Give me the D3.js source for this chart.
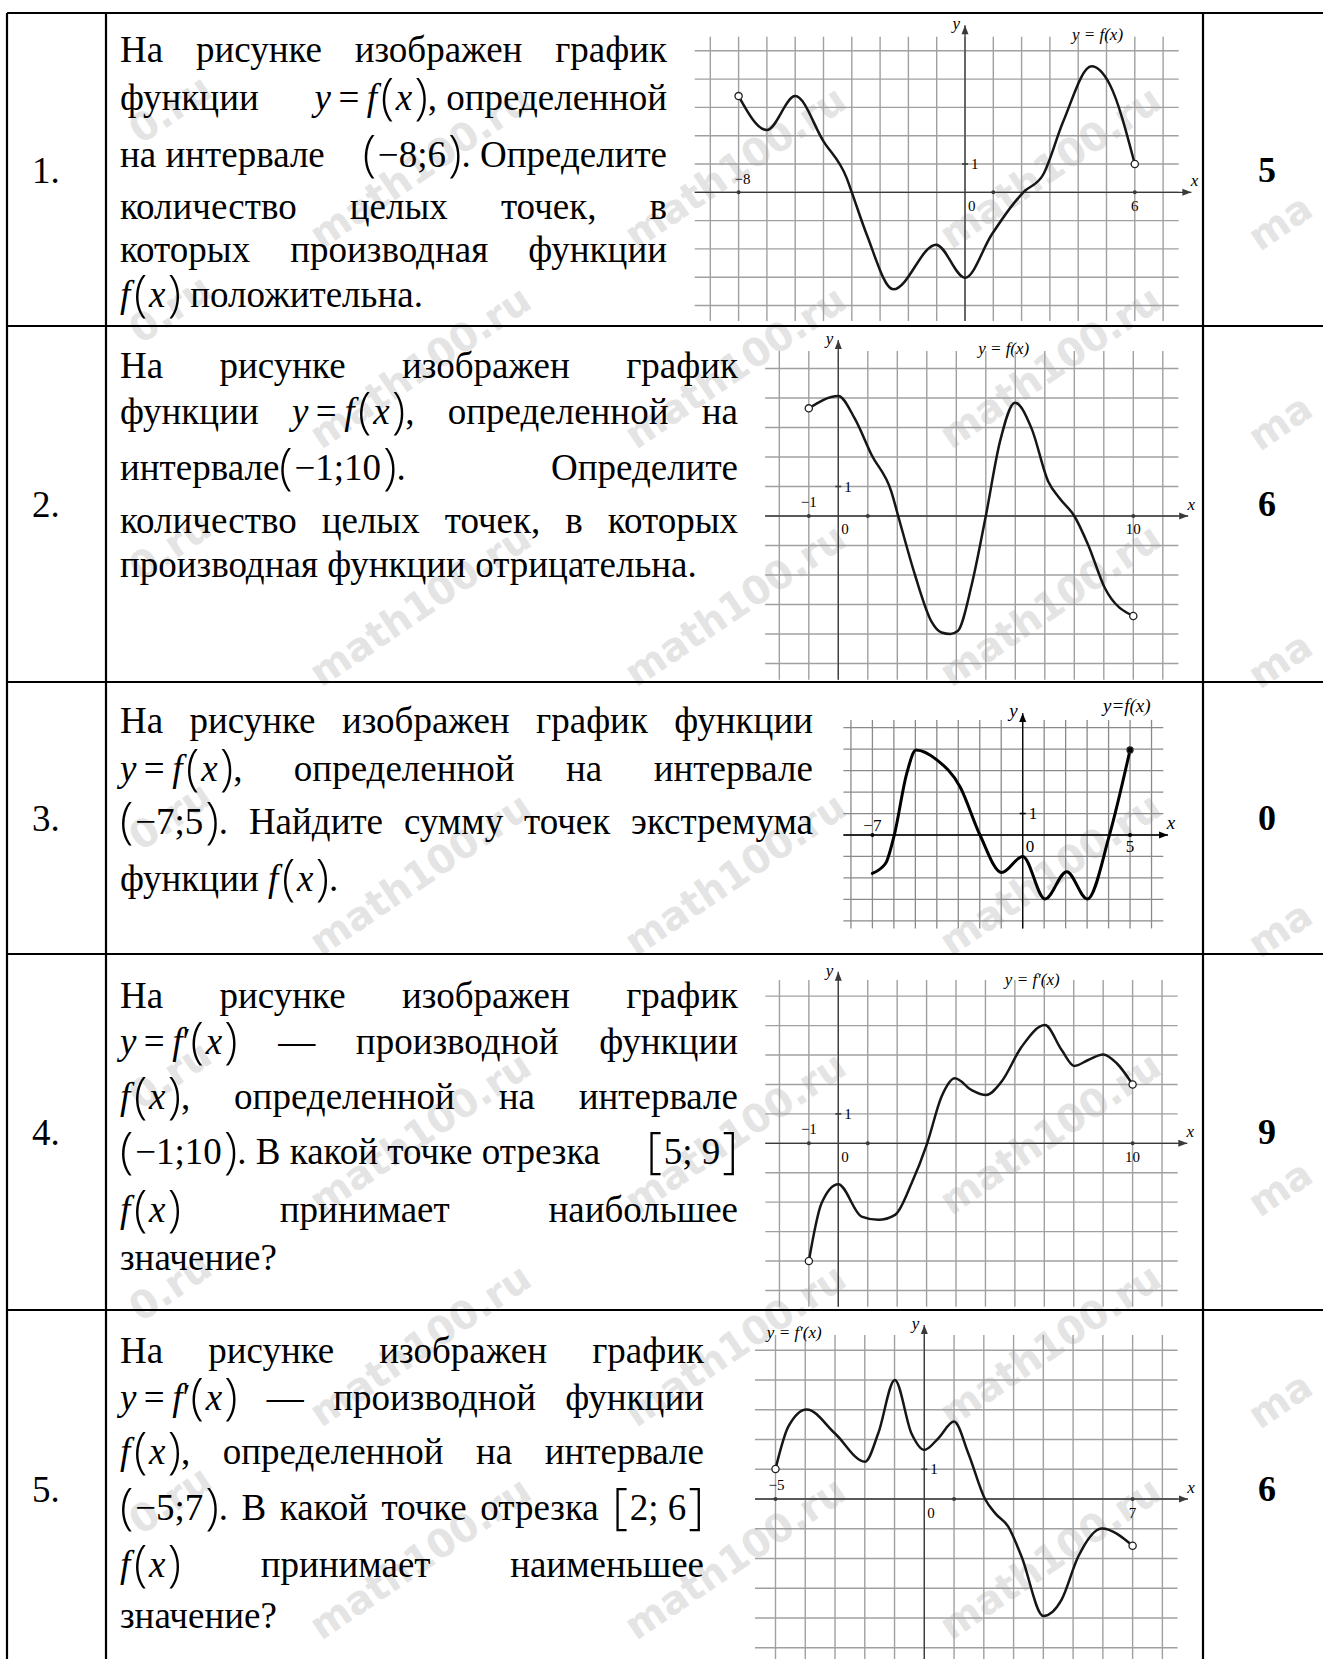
<!DOCTYPE html>
<html lang="ru">
<head>
<meta charset="UTF-8">
<title>Графики функций и производных</title>
<script src="https://cdnjs.cloudflare.com/ajax/libs/d3/7.8.5/d3.min.js"></script>
<style>
  body { margin: 0; background: #fff; }
  svg { display: block; }
  .txt { font-family: "Liberation Serif", "Times New Roman", serif; fill: #000; }
  .wm { font-family: "DejaVu Sans", sans-serif; font-weight: bold; fill: #e4e4e4; }
</style>
</head>
<body>
<svg width="1323" height="1659"></svg>
<script>
// numbers and answers
var taskNums = ["1.", "2.", "3.", "4.", "5."];
var answers = ["5", "6", "0", "9", "6"];

// task texts, one entry per printed line ($ = formula word, nbsp = fixed space)
var text1 = ["На рисунке изображен график", "функции $y=f(x),\u00a0определенной", "на\u00a0интервале $(−8;6).\u00a0Определите",
  "количество целых точек, в", "которых производная функции", "$f(x) положительна."];
var text2 = ["На рисунке изображен график", "функции $y=f(x), определенной на", "$интервале(−1;10). Определите",
  "количество целых точек, в которых", "производная функции отрицательна."];
var text3 = ["На рисунке изображен график функции", "$y=f(x), определенной на интервале",
  "$(−7;5). Найдите сумму точек экстремума", "функции $f(x)."];
var text4 = ["На рисунке изображен график", "$y=f′(x) — производной функции", "$f(x), определенной на интервале",
  "$(−1;10).\u00a0В\u00a0какой\u00a0точке\u00a0отрезка $[5;\u00a09]", "$f(x) принимает наибольшее", "значение?"];
var text5 = ["На рисунке изображен график", "$y=f′(x) — производной функции", "$f(x), определенной на интервале",
  "$(−5;7). В какой точке отрезка $[2;\u00a06]", "$f(x) принимает наименьшее", "значение?"];

// curve points (x, y in grid units)
var g1X = [-8, -7, -6, -5, -4.18, -4, -3.47, -2.53, -1.02, 0, 0.94, 1.6, 2.06, 2.76, 3.47, 4.47, 5.12, 6];
var g1Y = [3.4, 2.2, 3.4, 1.8, 0.5, 0, -1.5, -3.43, -1.85, -3.02, -1.5, -0.55, 0, 0.62, 2.5, 4.45, 3.8, 1];
var g2X = [-1, 0, 0.56, 1.13, 1.8, 2.03, 2.6, 3.16, 3.5, 3.8, 4.05, 4.52, 5, 5.48, 5.99, 6.55, 7.12, 7.5, 8, 8.47, 9.04, 10];
var g2Y = [3.65, 4.07, 3.3, 2.07, 0.82, 0, -2, -3.58, -3.95, -4.0, -3.9, -2.34, 0, 2.52, 3.84, 2.97, 1.16, 0.6, 0, -0.98, -2.45, -3.39];
var g3X = [-7, -6.6, -6.34, -5.98, -5.4, -4.97, -4, -2.92, -1.99, -0.98, 0, 1.04, 2.05, 3.01, 4.04, 5];
var g3Y = [-1.79, -1.55, -1.24, 0, 2.87, 3.96, 3.5, 2.25, 0, -1.75, -1.0, -2.98, -1.71, -2.98, 0, 3.96];
var g4X = [-1, -0.57, 0, 0.79, 1.36, 1.93, 2.49, 3.02, 3.51, 3.96, 4.53, 5.02, 5.55, 6.23, 7.02, 7.59, 8.02, 8.49, 9.0, 9.46, 10];
var g4Y = [-4.0, -2.04, -1.39, -2.49, -2.6, -2.43, -1.36, 0, 1.59, 2.21, 1.81, 1.64, 2.1, 3.28, 4.02, 3.17, 2.63, 2.83, 3.02, 2.72, 2.0];
var g5X = [-5, -4.57, -3.95, -3.0, -1.99, -1.55, -0.99, -0.43, 0, 0.47, 1.0, 1.48, 2.04, 2.4, 2.82, 3.27, 4.0, 4.61, 5.17, 5.96, 7];
var g5Y = [1.01, 2.43, 3.01, 2.2, 1.25, 2.2, 4.0, 2.2, 1.65, 2.04, 2.6, 1.53, 0, -0.5, -0.93, -1.94, -3.93, -3.39, -1.94, -0.99, -1.57];

// axis labels of each plot: left tick, zero, right tick, one, y, x, title
var g1Labels = ["−8", "0", "6", "1", "y", "x", "y = f(x)"];
var g2Labels = ["−1", "0", "10", "1", "y", "x", "y = f(x)"];
var g3Labels = ["−7", "0", "5", "1", "y", "x", "y=f(x)"];
var g4Labels = ["−1", "0", "10", "1", "y", "x", "y = f′(x)"];
var g5Labels = ["−5", "0", "7", "1", "y", "x", "y = f′(x)"];

// site stamp printed over the page, and the pieces of it cut by the page edges
var watermark = "math100.ru";
var wmLeft = "0.ru";
var wmRight = "ma";

var svg = d3.select("svg");
var FS = 37;

// table frame
var colX = [7, 106, 1203, 1331];
var rowY = [13, 326, 682, 954, 1310, 1668];

// ---------- watermark layer ----------
var wmg = svg.append("g");
function stamp(t, wx, wy) {
    wmg.append("text").attr("class", "wm").attr("font-size", 39)
        .attr("text-anchor", "middle").attr("dominant-baseline", "central")
        .attr("transform", "translate(" + wx + "," + wy + ") rotate(-34)")
        .text(t);
}
[167, 367, 605, 874, 1133, 1345, 1558].forEach(function(wy, k) {
    [420, 735, 1050].forEach(function(wx) { stamp(watermark, wx, wy); });
    stamp(wmLeft, 170, wy - 58);
    if (k < 6) stamp(wmRight, 1280, wy + 55);
});

// ---------- plots ----------
function drawPlot(p, xs, ys, labels) {
    var x = d3.scaleLinear().domain([0, 1]).range([p.ox, p.ox + p.u]);
    var y = d3.scaleLinear().domain([0, 1]).range([p.oy, p.oy - p.u]);
    var g = svg.append("g");
    var scan = p.style === "scan";
    var gridc = scan ? "#a0a0a0" : "#8a8a8a";

    g.selectAll(".vg").data(d3.range(p.vx[0], p.vx[1] + 1)).enter().append("line")
        .attr("x1", d => x(d)).attr("x2", d => x(d))
        .attr("y1", y(p.vTop)).attr("y2", y(p.vBot))
        .attr("stroke", gridc).attr("stroke-width", scan ? 1.4 : 1.3);
    g.selectAll(".hg").data(d3.range(p.hy[0], p.hy[1] + 1)).enter().append("line")
        .attr("x1", x(p.hL)).attr("x2", x(p.hR))
        .attr("y1", d => y(d)).attr("y2", d => y(d))
        .attr("stroke", gridc).attr("stroke-width", scan ? 1.4 : 1.3);

    // axes
    var axc = scan ? "#3a3a3a" : "#000";
    g.append("line").attr("x1", x(p.hL)).attr("x2", x(p.axR)).attr("y1", y(0)).attr("y2", y(0))
        .attr("stroke", axc).attr("stroke-width", 1.3);
    g.append("line").attr("x1", x(0)).attr("x2", x(0)).attr("y1", y(p.vBot)).attr("y2", y(p.axT))
        .attr("stroke", axc).attr("stroke-width", 1.3);
    var ax = x(p.axR), ay = y(0), tx = x(0), ty = y(p.axT);
    g.append("path").attr("d", "M" + ax + "," + ay + "L" + (ax - 9) + "," + (ay - 3.5) + "L" + (ax - 9) + "," + (ay + 3.5) + "Z").attr("fill", axc);
    g.append("path").attr("d", "M" + tx + "," + ty + "L" + (tx - 3.5) + "," + (ty + 9) + "L" + (tx + 3.5) + "," + (ty + 9) + "Z").attr("fill", axc);

    // tick dots
    g.selectAll(".tk").data(p.ticks).enter().append("circle")
        .attr("cx", d => x(d)).attr("cy", y(0)).attr("r", 2).attr("fill", axc);
    g.append("line").attr("x1", x(0) - 3).attr("x2", x(0) + 3).attr("y1", y(1)).attr("y2", y(1))
        .attr("stroke", axc).attr("stroke-width", 1.6);

    var pos = [
        [x(p.ticks[0]) + p.lx, y(0) - p.above, "middle"],
        [x(0) + 3, y(0) + p.below, "start"],
        [x(p.rt), y(0) + p.below, "middle"],
        [x(0) + 6, y(1) + 5, "start"],
        [x(0) - 5, y(p.axT) + 4, "end"],
        [x(p.axR) + 3, y(0) - 6, "middle"],
        [x(p.titleX), y(p.titleY), "start"]
    ];
    labels.forEach(function(t, i) {
        g.append("text").attr("class", "txt")
            .attr("x", pos[i][0]).attr("y", pos[i][1]).attr("text-anchor", pos[i][2])
            .attr("font-size", i >= 4 ? p.fs + 2 : p.fs)
            .attr("font-style", i >= 4 ? "italic" : null)
            .attr("fill", scan ? "#505050" : "#000")
            .text(t);
    });

    var line = d3.line().x((d, i) => x(xs[i])).y((d, i) => y(ys[i])).curve(d3.curveMonotoneX);
    g.append("path").datum(xs).attr("d", line).attr("fill", "none")
        .attr("stroke", scan ? "#161616" : "#000").attr("stroke-width", scan ? 2.5 : 3)
        .attr("stroke-linejoin", "round").attr("stroke-linecap", "round");

    p.ends.forEach(function(e) {
        var i = e[0] === 0 ? 0 : xs.length - 1;
        g.append("circle").attr("cx", x(xs[i])).attr("cy", y(ys[i])).attr("r", e[1] ? 3.6 : 3)
            .attr("fill", e[1] ? "#fff" : "#000").attr("stroke", "#222").attr("stroke-width", 1.3);
    });
}

drawPlot({ox: 965, oy: 192.3, u: 28.3, vx: [-9, 7], vTop: 5.5, vBot: -4.55, hy: [-4, 5], hL: -9.55, hR: 7.55,
    axR: 8.0, axT: 5.9, ticks: [-8, 1, 6], rt: 6, lx: 4, above: 8, below: 19, titleX: 3.78, titleY: 5.38,
    fs: 15, style: "scan", ends: [[0, true], [1, true]]}, g1X, g1Y, g1Labels);
drawPlot({ox: 838.3, oy: 516, u: 29.5, vx: [-2, 11], vTop: 5.59, vBot: -5.55, hy: [-5, 5], hL: -2.48, hR: 11.53,
    axR: 11.86, axT: 5.97, ticks: [-1, 1, 10], rt: 10, lx: 0, above: 9, below: 18, titleX: 4.74, titleY: 5.49,
    fs: 15, style: "scan", ends: [[0, true], [1, true]]}, g2X, g2Y, g2Labels);
drawPlot({ox: 1022.7, oy: 835, u: 21.47, vx: [-8, 6], vTop: 5.36, vBot: -4.35, hy: [-4, 5], hL: -8.35, hR: 6.55,
    axR: 6.77, axT: 5.68, ticks: [-7, 5], rt: 5, lx: 0, above: 4, below: 17, titleX: 3.74, titleY: 5.73,
    fs: 17, style: "plain", ends: [[1, false]]}, g3X, g3Y, g3Labels);
drawPlot({ox: 838.3, oy: 1143.3, u: 29.43, vx: [-2, 11], vTop: 5.55, vBot: -5.55, hy: [-5, 5], hL: -2.48, hR: 11.53,
    axR: 11.86, axT: 5.83, ticks: [-1, 1, 10], rt: 10, lx: 0, above: 9, below: 19, titleX: 5.66, titleY: 5.38,
    fs: 15, style: "scan", ends: [[0, true], [1, true]]}, g4X, g4Y, g4Labels);
drawPlot({ox: 924.3, oy: 1499, u: 29.76, vx: [-5, 8], vTop: 5.51, vBot: -5.6, hy: [-5, 5], hL: -5.69, hR: 8.51,
    axR: 8.86, axT: 5.85, ticks: [-5, 1, 7], rt: 7, lx: 1, above: 9, below: 19, titleX: -5.29, titleY: 5.41,
    fs: 15, style: "scan", ends: [[0, true], [1, true]]}, g5X, g5Y, g5Labels);

// ---------- text ----------
function parseWord(w) {
    if (w[0] !== "$") return [{t: w, it: false, big: false}];
    var out = [];
    Array.from(w.slice(1)).forEach(function(c) {
        var it = /[a-z]/.test(c), big = /[()\[\]]/.test(c);
        if (c === "=") c = "\u2009=\u2009";
        var last = out[out.length - 1];
        if (last && !big && !last.big && last.it === it) last.t += c;
        else out.push({t: c, it: it, big: big});
    });
    return out;
}

// returns the text node and the extra shift added by dx, so widths stay right
function drawWord(w, base) {
    var t = svg.append("text").attr("class", "txt").attr("x", 0).attr("y", base).attr("font-size", FS);
    var prev = null, extra = 0;
    parseWord(w).forEach(function(s) {
        var sp = t.append("tspan").text(s.t)
            .attr("y", s.big ? base + FS * 0.12 : base)
            .attr("font-style", s.it ? "italic" : null);
        var pad = 0;
        if (s.big) {
            sp.attr("font-size", FS * 1.32).style("font-family", "'Open Sans', sans-serif").attr("font-weight", 300);
            if (prev && prev.it && /[(\[]/.test(s.t)) pad = 0.1;
            if (/[)\]]/.test(s.t)) pad = 0.06;
        } else {
            sp.attr("font-size", FS);
            if (prev && prev.big && /[(\[]/.test(prev.t)) pad = 0.05;
        }
        if (pad) { sp.attr("dx", FS * pad); extra += FS * pad; }
        prev = s;
    });
    return {node: t, extra: extra};
}

function drawLines(lines, left, right, bases) {
    lines.forEach(function(ln, i) {
        var words = ln.split(" ");
        var lastLine = i === lines.length - 1;
        var items = words.map(w => drawWord(w, bases[i]));
        var widths = items.map(it => it.node.node().getComputedTextLength() + it.extra);
        var gap = (lastLine || words.length < 2) ? FS * 0.25 : (right - left - d3.sum(widths)) / (words.length - 1);
        var xx = left;
        items.forEach(function(it, j) { it.node.attr("x", xx); xx += widths[j] + gap; });
    });
}

drawLines(text1, 120, 667, [62, 110, 167, 219, 262, 307]);
drawLines(text2, 120, 738, [378, 424, 480, 533, 577]);
drawLines(text3, 120, 813, [733, 781, 834, 891]);
drawLines(text4, 120, 738, [1008, 1054, 1109, 1164, 1222, 1270]);
drawLines(text5, 120, 704, [1363, 1410, 1464, 1520, 1577, 1628]);

// numbers and answers
taskNums.forEach(function(n, i) {
    var mid = (rowY[i] + rowY[i + 1]) / 2;
    svg.append("text").attr("class", "txt").attr("x", 32).attr("y", mid + 13).attr("font-size", FS).text(n);
    svg.append("text").attr("class", "txt").attr("x", 1267).attr("y", mid + 12).attr("text-anchor", "middle")
        .attr("font-size", 36).attr("font-weight", "bold").text(answers[i]);
});

var frame = svg.append("g").attr("stroke", "#000").attr("stroke-width", 2.2);
colX.forEach(function(cx) {
    frame.append("line").attr("x1", cx).attr("x2", cx).attr("y1", rowY[0]).attr("y2", rowY[5]);
});
rowY.forEach(function(ry) {
    frame.append("line").attr("x1", colX[0]).attr("x2", colX[3]).attr("y1", ry).attr("y2", ry);
});
</script>
</body>
</html>
